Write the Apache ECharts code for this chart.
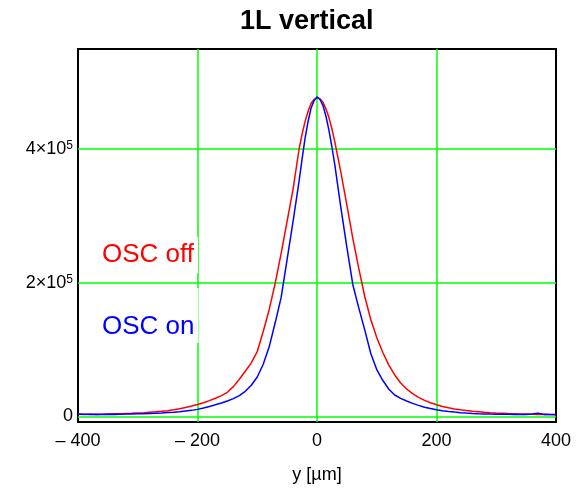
<!DOCTYPE html>
<html><head><meta charset="utf-8">
<script src="https://cdn.jsdelivr.net/npm/echarts@6/dist/echarts.min.js"></script>
<style>html,body{margin:0;padding:0;background:#fff}#c{width:583px;height:493px}</style>
</head><body><div id="c"></div>
<script>
const titleText = '1L vertical';
const xAxisName = 'y [µm]';
const seriesNames = ['OSC off', 'OSC on'];
const positions = [-400,-390,-380,-370,-360,-350,-340,-330,-320,-310,-300,-290,-280,-270,-260,-250,-240,-230,-220,-210,-200,-190,-180,-170,-160,-150,-140,-130,-120,-110,-100,-90,-80,-70,-60,-50,-40,-30,-25,-20,-15,-10,-5,0,5,10,15,20,25,30,40,50,60,70,80,90,100,110,120,130,140,150,160,170,180,190,200,210,220,230,240,250,260,270,280,290,300,310,320,330,340,350,360,370,380,390,400];
// intensity in units of 1000
const oscOffK = [3.2,3.0,3.4,2.9,3.3,3.6,3.8,4.0,4.3,4.6, 5.1,5.6,6.3,6.9,7.7,8.6,9.9,11.4,13.3,15.4, 17.8,20.4,23.6,27.2,31.0,36.0,44.5,55.5,67.5,80.0, 97,127,160,199,244,292,340,400,422,441,456,468,474,
  477,
  475,470,460,447,430,410,365,316,266,221,179,145,118, 96,77,62,50,41,34,28.5,24,20.5,17.5, 14.8,12.8,11.2,9.8,8.7,7.7,7.0,6.2,5.6,5.1, 4.7,4.3,4.0,3.6,3.5,3.2,3.0,3.3,2.8,2.6];
const oscOnK = [3.4,3.2,3.0,3.3,2.8,3.1,2.7,3.3,3.4,3.6, 3.8,4.0,4.4,4.8,5.2,5.8,6.3,7.0,8.0,9.0, 10.5,12.5,14.8,17.3,20.0,23.0,26.5,31.0,37.5,46.5, 59,78,104,140,178,235,292,352,385,416,441,461,472,
  478,
  474,465,449,428,403,375,312,253,197,162,129,94,70, 54,41,32,27,23,19.5,16.5,13.8,11.8,10.0, 8.6,7.4,6.4,5.6,4.9,4.3,3.9,3.6,3.4,3.3, 3.1,3.2,2.9,3.0,2.8,3.5,4.8,3.0,2.7,2.9];
const unit = 1000;
const xTicks = [-400,-200,0,200,400];
const xTickLabels = ['\u2013 400','\u2013 200','0','200','400'];
const xGrid = [-200,0,200];
const yTicks = [0,200000,400000];
const yTickMantissa = ['0','2','4'];
const yExponent = '5';

const FONT = 'Liberation Sans, Arial, sans-serif';
const chart = echarts.init(document.getElementById('c'), null, {renderer:'canvas'});
const pair = (arr) => positions.map((x,i)=>[x, arr[i]*unit]);

chart.setOption({
  animation:false,
  backgroundColor:'#fff',
  title:{text:titleText,left:240,top:8,padding:0,textStyle:{fontFamily:FONT,fontSize:27,fontWeight:'bold',color:'#000'}},
  grid:{left:78,right:27,top:49,bottom:71,show:true,borderColor:'#000',borderWidth:2,backgroundColor:'#fff'},
  xAxis:{type:'value',min:-400,max:400,interval:200,
    name:xAxisName,nameLocation:'middle',nameGap:44,
    nameTextStyle:{fontFamily:FONT,fontSize:18,color:'#000'},
    axisLine:{show:false},axisTick:{show:false},splitLine:{show:false},
    axisLabel:{margin:10,fontFamily:FONT,fontSize:18,color:'#000',
      formatter:(v)=>{const i=xTicks.indexOf(v);return i>=0?xTickLabels[i]:'';}}},
  yAxis:{type:'value',min:-8400,max:549600,
    axisLine:{show:false},axisTick:{show:false},splitLine:{show:false},
    axisLabel:{customValues:yTicks,margin:5,color:'#000',
      formatter:(v)=>{const i=yTicks.indexOf(v); if(i<0) return ''; if(v===0) return '{m|0}'; return '{m|'+yTickMantissa[i]+'\u00d710}{e|'+yExponent+'}';},
      rich:{m:{fontFamily:FONT,fontSize:18,lineHeight:18,verticalAlign:'bottom',color:'#000'},
            e:{fontFamily:FONT,fontSize:12,lineHeight:12,verticalAlign:'top',padding:[0,0,14,0],color:'#000'}}}},
  series:[
    {name:seriesNames[0],type:'line',data:pair(oscOffK),showSymbol:false,symbol:'none',z:3,
      lineStyle:{color:'#ff0000',width:1.5},
      markLine:{silent:true,symbol:'none',z:1,label:{show:false},
        lineStyle:{color:'#00ff00',width:1.5,type:'solid'},
        data:xGrid.map(x=>({xAxis:x})).concat(yTicks.map(y=>({yAxis:y})))}},
    {name:seriesNames[1],type:'line',data:pair(oscOnK),showSymbol:false,symbol:'none',z:4,
      lineStyle:{color:'#0000ff',width:1.5}}
  ],
  graphic:[
    {type:'text',z:10,left:98,top:237,style:{text:seriesNames[0],fill:'#ff0000',font:'26px '+FONT,backgroundColor:'#fff',padding:[5,4,5,4]}},
    {type:'text',z:10,left:98,top:288,style:{text:seriesNames[1],fill:'#0000ff',font:'26px '+FONT,backgroundColor:'#fff',padding:[26,4,3,4]}}
  ]
});
</script></body></html>
